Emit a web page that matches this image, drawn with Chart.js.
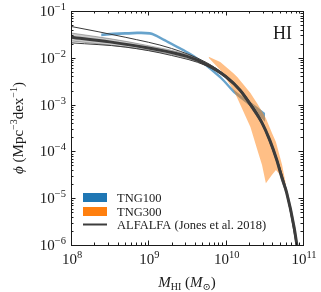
<!DOCTYPE html>
<html lang="en">
<head>
  <meta charset="UTF-8">
  <title>HI mass function</title>
  <style>
    body { margin: 0; background: #fff; }
    canvas { display: block; }
  </style>
</head>
<body>
  <canvas id="hiChart" width="321" height="292" style="width:321px;height:292px"></canvas>

  <script src="https://cdn.jsdelivr.net/npm/chart.js"></script>
  <script>
    // values, as log10(M_HI) and log10(phi)
    const alfLogM   = [8.0, 8.5, 9.0, 9.5, 9.75, 10.0, 10.19, 10.34, 10.47, 10.57, 10.66, 10.73, 10.79, 10.885, 10.93];
    const alfLogPhi = [-1.56, -1.66, -1.79, -1.97, -2.14, -2.40, -2.70, -3.05, -3.39, -3.76, -4.18, -4.58, -4.89, -5.62, -6.1];
    const alfBandUp = [-1.47, -1.59, -1.74, -1.93, -2.11, -2.37, -2.67, -3.01, -3.35, -3.71, -4.13, -4.52, -4.83, -5.55, -6.03];
    const alfBandLo = [-1.64, -1.73, -1.84, -2.01, -2.17, -2.43, -2.73, -3.09, -3.43, -3.81, -4.23, -4.64, -4.95, -5.69, -6.17];

    const thinLogM  = [8.0, 8.7, 9.3, 9.75, 10.0, 10.19, 10.47, 10.66, 10.79, 10.93];
    const thinUp    = [-1.33, -1.56, -1.80, -2.10, -2.38, -2.68, -3.37, -4.15, -4.86, -6.05];
    const thinLo    = [-1.68, -1.77, -1.95, -2.17, -2.42, -2.72, -3.41, -4.21, -4.92, -6.15];

    const tng100LogM = [8.39, 8.70, 9.02, 9.25, 9.41, 9.51, 9.67, 9.93, 10.10, 10.32, 10.51];
    const tng100Up   = [-1.48, -1.45, -1.45, -1.63, -1.77, -1.86, -2.03, -2.38, -2.67, -2.94, -3.18];
    const tng100Lo   = [-1.54, -1.51, -1.51, -1.69, -1.83, -1.92, -2.09, -2.45, -2.75, -3.04, -3.37];

    const tng300LogM = [9.78, 9.93, 10.10, 10.15, 10.32, 10.41, 10.47, 10.52, 10.60, 10.65, 10.73, 10.78];
    const tng300Up   = [-1.98, -2.09, -2.33, -2.41, -2.75, -2.98, -3.15, -3.29, -3.61, -3.80, -4.29, -4.72];
    const tng300Lo   = [-2.00, -2.26, -2.69, -2.86, -3.48, -3.97, -4.29, -4.68, -4.50, -4.40, -4.56, -4.72];

    const xTickExps = [8, 9, 10, 11];
    const yTickExps = [-1, -2, -3, -4, -5, -6];
    const legendLabels = ['TNG100', 'TNG300', 'ALFALFA (Jones et al. 2018)'];
    const panelLabel = 'HI';

    const SERIF = '"Liberation Serif", "DejaVu Serif", serif';

    function pts(logM, logPhi) {
      return logM.map((m, i) => ({ x: Math.pow(10, m), y: Math.pow(10, logPhi[i]) }));
    }

    function decadeTicks(lo, hi) {
      const out = [];
      for (let e = lo; e < hi; e++) {
        for (let k = 1; k < 10; k++) out.push({ value: k * Math.pow(10, e) });
      }
      out.push({ value: Math.pow(10, hi) });
      return out;
    }

    // text with sub/superscripts, drawn part by part
    function drawRich(ctx, parts, x, y, align) {
      let total = 0;
      const widths = parts.map(p => {
        ctx.font = (p.italic ? 'italic ' : '') + p.size + 'px ' + SERIF;
        const w = ctx.measureText(p.t).width;
        total += w;
        return w;
      });
      let cx = align === 'center' ? x - total / 2 : align === 'right' ? x - total : x;
      ctx.textAlign = 'left';
      ctx.textBaseline = 'alphabetic';
      parts.forEach((p, i) => {
        ctx.font = (p.italic ? 'italic ' : '') + p.size + 'px ' + SERIF;
        ctx.fillText(p.t, cx, y + (p.dy || 0));
        cx += widths[i];
      });
    }

    const decor = {
      id: 'decor',
      afterDraw(chart) {
        const ctx = chart.ctx;
        const a = chart.chartArea;
        const xs = chart.scales.x, ys = chart.scales.y;
        ctx.save();
        ctx.strokeStyle = '#1a1a1a';
        ctx.fillStyle = '#1a1a1a';
        ctx.lineWidth = 1;

        // inward ticks on all four sides
        const isMajor = v => Math.abs(Math.log10(v) - Math.round(Math.log10(v))) < 1e-6;
        ctx.beginPath();
        xs.ticks.forEach(t => {
          const px = Math.round(xs.getPixelForValue(t.value)) + 0.5;
          const len = isMajor(t.value) ? 4.5 : 2.5;
          ctx.moveTo(px, a.bottom); ctx.lineTo(px, a.bottom - len);
          ctx.moveTo(px, a.top); ctx.lineTo(px, a.top + len);
        });
        ys.ticks.forEach(t => {
          const py = Math.round(ys.getPixelForValue(t.value)) + 0.5;
          const len = isMajor(t.value) ? 4.5 : 2.5;
          ctx.moveTo(a.left, py); ctx.lineTo(a.left + len, py);
          ctx.moveTo(a.right, py); ctx.lineTo(a.right - len, py);
        });
        ctx.stroke();
        ctx.strokeRect(Math.round(a.left) + 0.5, Math.round(a.top) + 0.5,
                       Math.round(a.right - a.left), Math.round(a.bottom - a.top));

        // tick labels
        xTickExps.forEach(e => {
          const px = xs.getPixelForValue(Math.pow(10, e));
          drawRich(ctx, [{ t: '10', size: 15 }, { t: String(e), size: 10.5, dy: -6 }], px + 1, 264, 'center');
        });
        yTickExps.forEach(e => {
          const py = ys.getPixelForValue(Math.pow(10, e));
          drawRich(ctx, [{ t: '10', size: 15 }, { t: '\u2212' + Math.abs(e), size: 10.5, dy: -6 }], 66, py + 5, 'right');
        });

        // axis titles
        drawRich(ctx, [
          { t: 'M', size: 15, italic: true }, { t: 'HI', size: 10, dy: 3 },
          { t: ' (', size: 15 }, { t: 'M', size: 15, italic: true },
          { t: '\u2299', size: 10, dy: 3 }, { t: ')', size: 15 }
        ], (a.left + a.right) / 2, 287, 'center');

        ctx.save();
        ctx.translate(23, (a.top + a.bottom) / 2);
        ctx.rotate(-Math.PI / 2);
        drawRich(ctx, [
          { t: '\u03d5', size: 15, italic: true }, { t: ' (Mpc', size: 15 },
          { t: '\u22123', size: 10, dy: -6 }, { t: 'dex', size: 15 },
          { t: '\u22121', size: 10, dy: -6 }, { t: ')', size: 15 }
        ], 0, 0, 'center');
        ctx.restore();

        // panel label
        ctx.font = '18px ' + SERIF;
        ctx.textAlign = 'right';
        ctx.textBaseline = 'alphabetic';
        ctx.fillText(panelLabel, 292, 39);

        // legend
        const lx = 83;
        ctx.fillStyle = '#1f77b4';
        ctx.fillRect(lx, 193, 24, 9);
        ctx.fillStyle = '#ff7f0e';
        ctx.fillRect(lx, 207, 24, 9);
        ctx.strokeStyle = '#3c3c3c';
        ctx.lineWidth = 2;
        ctx.beginPath(); ctx.moveTo(lx, 224.5); ctx.lineTo(lx + 24, 224.5); ctx.stroke();
        ctx.fillStyle = '#1a1a1a';
        ctx.font = '12.5px ' + SERIF;
        ctx.textAlign = 'left';
        [202, 216, 229].forEach((by, i) => ctx.fillText(legendLabels[i], 117, by));
        ctx.restore();
      }
    };

    const smooth = { cubicInterpolationMode: 'monotone' };

    new Chart(document.getElementById('hiChart'), {
      type: 'line',
      data: {
        datasets: [
          { data: pts(tng100LogM, tng100Up), borderColor: 'rgba(0,0,0,0)', borderWidth: 1, fill: false, order: 9, tension: 0.3 },
          { data: pts(tng100LogM, tng100Lo), borderColor: 'rgba(0,0,0,0)', borderWidth: 1, fill: '-1',
            backgroundColor: 'rgba(31,119,180,0.68)', order: 9, tension: 0.3 },
          { data: pts(tng300LogM, tng300Up), borderColor: 'rgba(0,0,0,0)', borderWidth: 1, fill: false, order: 8, tension: 0 },
          { data: pts(tng300LogM, tng300Lo), borderColor: 'rgba(0,0,0,0)', borderWidth: 1, fill: '-1',
            backgroundColor: 'rgba(255,127,14,0.5)', order: 8, tension: 0 },
          Object.assign({ data: pts(alfLogM, alfBandUp), borderColor: 'rgba(80,80,80,0.55)', borderWidth: 0.8, fill: false, order: 7 }, smooth),
          Object.assign({ data: pts(alfLogM, alfBandLo), borderColor: 'rgba(80,80,80,0.55)', borderWidth: 0.8, fill: '-1',
            backgroundColor: 'rgba(150,150,150,0.5)', order: 7 }, smooth),
          Object.assign({ data: pts(thinLogM, thinUp), borderColor: '#3a3a3a', borderWidth: 1, fill: false, order: 6 }, smooth),
          Object.assign({ data: pts(thinLogM, thinLo), borderColor: '#3a3a3a', borderWidth: 1, fill: false, order: 6 }, smooth),
          Object.assign({ data: pts(alfLogM, alfLogPhi), borderColor: '#3c3c3c', borderWidth: 3, fill: false, order: 0 }, smooth)
        ]
      },
      options: {
        responsive: false,
        animation: false,
        layout: { padding: { left: 0, top: 11, right: 18, bottom: 0 } },
        elements: { point: { radius: 0 } },
        plugins: { legend: { display: false }, tooltip: { enabled: false } },
        scales: {
          x: {
            type: 'logarithmic', min: 1e8, max: 1e11,
            afterBuildTicks: s => { s.ticks = decadeTicks(8, 11); },
            afterFit: s => { s.height = 47; },
            ticks: { display: false },
            grid: { display: false },
            border: { display: false }
          },
          y: {
            type: 'logarithmic', min: 1e-6, max: 1e-1,
            afterBuildTicks: s => { s.ticks = decadeTicks(-6, -1); },
            afterFit: s => { s.width = 71; },
            ticks: { display: false },
            grid: { display: false },
            border: { display: false }
          }
        }
      },
      plugins: [decor]
    });
  </script>
</body>
</html>
